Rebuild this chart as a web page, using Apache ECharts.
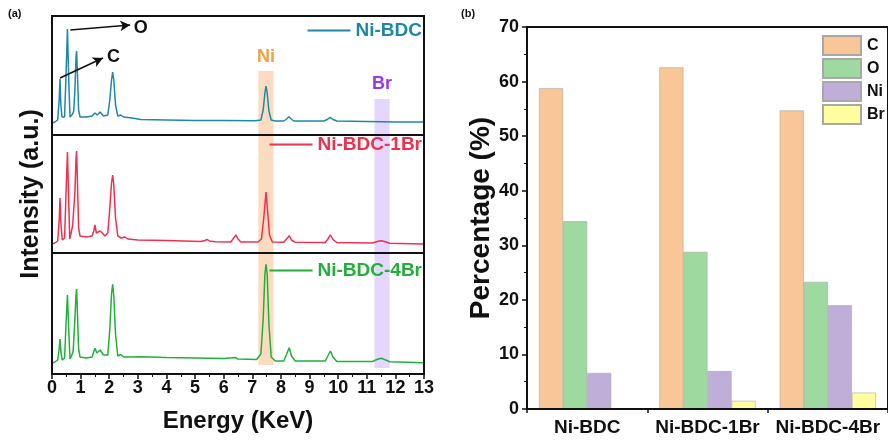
<!DOCTYPE html>
<html><head><meta charset="utf-8">
<script src="https://cdn.jsdelivr.net/npm/echarts@6/dist/echarts.min.js"></script>
<style>html,body{margin:0;padding:0;background:#fff}#c{width:888px;height:441px}</style>
</head><body><div id="c"></div>
<script>
// ---- Panel (a): EDS spectra [energy keV, intensity a.u.] ----
var spectrumNiBDC = [[0,12],[0.1,13],[0.2,15],[0.22,16],[0.25,35],[0.28,56],[0.31,30],[0.35,18],[0.44,18],[0.49,60],[0.54,106],[0.59,50],[0.63,18],[0.66,16],[0.72,21],[0.76,24],[0.8,45],[0.84,78],[0.86,84],[0.89,60],[0.93,25],[0.98,18],[1.2,18],[1.4,19],[1.5,22],[1.58,20],[1.68,23],[1.8,19],[1.95,20],[2.02,35],[2.08,55],[2.12,63],[2.16,55],[2.22,30],[2.3,19],[2.4,20],[2.5,18],[2.8,17],[3.1,15.5],[4,15],[5,14.5],[6,14.5],[7.1,14.3],[7.3,15],[7.38,25],[7.44,42],[7.48,49],[7.52,42],[7.58,24],[7.66,15],[7.8,14],[8.1,14],[8.2,16],[8.28,18.3],[8.36,16],[8.45,14],[9.5,14],[9.62,15.5],[9.72,17.7],[9.82,15.5],[9.95,14],[11,13.5],[12,13],[13,13]];
var spectrumNiBDC1Br = [[0,9],[0.1,10],[0.2,12],[0.25,32],[0.28,55],[0.31,30],[0.36,13],[0.44,15],[0.49,60],[0.54,101],[0.59,45],[0.62,14],[0.66,16],[0.72,27],[0.76,28],[0.8,60],[0.84,95],[0.86,102],[0.89,70],[0.93,25],[0.98,17],[1.2,16],[1.4,17],[1.46,22],[1.5,28],[1.55,20],[1.6,19],[1.68,22],[1.76,20],[1.85,17],[1.95,20],[2.02,45],[2.08,70],[2.12,78],[2.16,68],[2.22,35],[2.3,17],[2.35,18],[2.42,15],[2.55,16],[2.65,14],[3.0,13],[4,12.5],[5.2,11.5],[5.35,12.5],[5.42,13.7],[5.5,12],[5.7,11.3],[6.25,11],[6.35,15],[6.43,18],[6.5,14],[6.6,11],[7.2,11],[7.32,14],[7.4,35],[7.48,61],[7.54,40],[7.6,18],[7.7,11],[8.1,10.7],[8.2,14],[8.29,17.3],[8.37,13],[8.5,10.7],[9.55,10.5],[9.64,14],[9.73,18],[9.82,13.5],[9.95,10.5],[11.2,10],[11.4,11.8],[11.5,12.3],[11.62,11.5],[11.8,9.8],[13,9]];
var spectrumNiBDC4Br = [[0,11],[0.1,12],[0.2,14],[0.25,25],[0.28,35],[0.31,22],[0.36,14],[0.44,16],[0.49,50],[0.54,79],[0.59,40],[0.63,15],[0.68,18],[0.74,23],[0.8,55],[0.84,80],[0.86,85],[0.89,60],[0.93,25],[0.98,17],[1.2,16],[1.4,17],[1.5,25.7],[1.57,21],[1.68,24],[1.8,19],[1.95,19],[2.02,45],[2.08,80],[2.12,89.7],[2.16,78],[2.22,40],[2.3,18],[2.4,19.5],[2.5,17],[2.8,17],[3.1,17.3],[4,16.5],[5,16],[6,15.5],[6.4,16.5],[6.5,15],[7.15,14.5],[7.3,20],[7.38,55],[7.44,100],[7.48,109.7],[7.52,100],[7.58,50],[7.66,17],[7.8,13],[8.1,13],[8.2,20],[8.29,26.3],[8.37,18],[8.5,13],[9.55,13],[9.64,18],[9.73,23],[9.82,17],[9.95,12.5],[11.2,12.5],[11.4,15],[11.5,15.7],[11.62,14.5],[11.8,12.3],[13,11.3]];
var spectrumNames = ['Ni-BDC','Ni-BDC-1Br','Ni-BDC-4Br'];
var energyTicks = [0,1,2,3,4,5,6,7,8,9,10,11,12,13];
var niBand = [7.21, 7.74];
var brBand = [11.27, 11.8];

// ---- Panel (b): element percentages ----
var samples = ['Ni-BDC','Ni-BDC-1Br','Ni-BDC-4Br'];
var elements = ['C','O','Ni','Br'];
var pctC  = [58.8, 62.6, 54.7];
var pctO  = [34.4, 28.8, 23.3];
var pctNi = [6.6, 6.95, 19.0];
var pctBr = [0, 1.5, 3.0];
var pctTicks = [0,10,20,30,40,50,60,70];

var FONT = 'Liberation Sans, Arial, sans-serif';
var lineColors = ['#1f88a6','#f0304f','#22b03a'];
var barColors = ['#f9c797','#9ed9a0','#bfaed7','#ffffa0'];
var panelH = [119,118,121];

var chart = echarts.init(document.getElementById('c'), null, {renderer:'canvas'});

var grids = [
  {left:52, top:16, width:372, height:119, show:true, borderColor:'#111', borderWidth:2, z:10},
  {left:52, top:135, width:372, height:118, show:true, borderColor:'#111', borderWidth:2, z:10},
  {left:52, top:253, width:372, height:121, show:true, borderColor:'#111', borderWidth:2, z:10},
  {left:527, top:27, width:366, height:382, show:true, borderColor:'#111', borderWidth:2, z:10}
];

var xAxes = [0,1,2].map(function(i){
  var bottom = i === 2;
  return {
    type:'value', gridIndex:i, min:0, max:13, interval:1,
    axisLine:{show:bottom, lineStyle:{color:'#111', width:2}},
    axisTick:{show:bottom, length:5, lineStyle:{color:'#111', width:1.5}},
    minorTick:{show:bottom, splitNumber:2, length:3, lineStyle:{color:'#111', width:1}},
    splitLine:{show:false},
    axisLabel:{show:bottom, margin:5, fontFamily:FONT, fontWeight:'bold', fontSize:18, color:'#111',
      formatter:function(v){ return energyTicks.indexOf(v) >= 0 ? String(v) : ''; }},
    name: bottom ? 'Energy (KeV)' : '', nameLocation:'middle', nameGap:35,
    nameTextStyle:{fontFamily:FONT, fontWeight:'bold', fontSize:24, color:'#111'}
  };
});
xAxes.push({
  type:'category', gridIndex:3, data:samples,
  axisLine:{show:true, lineStyle:{color:'#111', width:2}},
  axisTick:{show:true, length:4, lineStyle:{color:'#111', width:1.5}},
  axisLabel:{interval:0, margin:9, fontFamily:FONT, fontWeight:'bold', fontSize:19, color:'#111'}
});

var yAxes = [0,1,2].map(function(i){
  return {
    type:'value', gridIndex:i, min:0, max:panelH[i],
    axisLine:{show:false}, axisTick:{show:false}, axisLabel:{show:false}, splitLine:{show:false},
    name: i === 1 ? 'Intensity (a.u.)' : '', nameLocation:'middle', nameGap:8,
    nameTextStyle:{fontFamily:FONT, fontWeight:'bold', fontSize:25, color:'#111'}
  };
});
yAxes.push({
  type:'value', gridIndex:3, min:0, max:70, interval:10,
  axisLine:{show:true, lineStyle:{color:'#111', width:2}},
  axisTick:{show:true, length:5, lineStyle:{color:'#111', width:1.5}},
  minorTick:{show:true, splitNumber:2, length:3, lineStyle:{color:'#111', width:1}},
  splitLine:{show:false},
  axisLabel:{margin:8, fontFamily:FONT, fontWeight:'bold', fontSize:18, color:'#111',
    formatter:function(v){ return pctTicks.indexOf(v) >= 0 ? String(v) : ''; }},
  name:'Percentage (%)', nameLocation:'middle', nameGap:31,
  nameTextStyle:{fontFamily:FONT, fontWeight:'bold', fontSize:28, color:'#111'}
});

var niAreaStyle = {color:'rgba(248,196,150,0.6)'};
var brAreaStyle = {color:'rgba(205,180,250,0.55)'};
// vertical extent [from, to] of the highlight bands in each panel
var niSpan = [[0,64],[0,118],[9,121]];
var brSpan = [[0,36],[0,118],[6,121]];

function bandArea(i){
  return {
    silent:true,
    data:[
      [{xAxis:niBand[0], yAxis:niSpan[i][0], itemStyle:niAreaStyle},{xAxis:niBand[1], yAxis:niSpan[i][1]}],
      [{xAxis:brBand[0], yAxis:brSpan[i][0], itemStyle:brAreaStyle},{xAxis:brBand[1], yAxis:brSpan[i][1]}]
    ]
  };
}

var spectra = [spectrumNiBDC, spectrumNiBDC1Br, spectrumNiBDC4Br];
var series = spectra.map(function(d,i){
  var s = {
    name: spectrumNames[i], type:'line', xAxisIndex:i, yAxisIndex:i, data:d,
    showSymbol:false, symbol:'none', lineStyle:{color:lineColors[i], width:1.5}, itemStyle:{color:lineColors[i]},
    markArea: bandArea(i), z:3
  };
  if (i === 0) {
    s.markLine = {
      silent:true, symbol:['none','arrow'], symbolSize:[8,10],
      lineStyle:{color:'#111', width:1.5, type:'solid'}, label:{show:false},
      data:[
        [{coord:[0.28,57]},{coord:[1.78,77]}],
        [{coord:[0.64,105]},{coord:[2.73,110]}]
      ]
    };
    s.markPoint = {
      silent:true, symbol:'circle', symbolSize:0,
      label:{show:true, position:'inside', fontFamily:FONT, fontWeight:'bold', fontSize:18},
      data:[
        {coord:[3.1,107], label:{formatter:'O', color:'#111'}},
        {coord:[2.15,78], label:{formatter:'C', color:'#111'}},
        {coord:[7.48,78], label:{formatter:'Ni', color:'#f5a040'}},
        {coord:[11.53,51], label:{formatter:'Br', color:'#9a35f0'}}
      ]
    };
  }
  return s;
});
var pcts = [pctC, pctO, pctNi, pctBr];
elements.forEach(function(el, k){
  series.push({
    name: el, type:'bar', xAxisIndex:3, yAxisIndex:3, data:pcts[k],
    barGap:'0%', barCategoryGap:'20%',
    itemStyle:{color:barColors[k], borderColor:'#a8a8a8', borderWidth:0.6}
  });
});

var legendTops = [21, 135, 261];
var legends = spectrumNames.map(function(n,i){
  return {
    data:[n], right:466, top:legendTops[i], padding:0, icon:'rect', itemWidth:43, itemHeight:2,
    textStyle:{fontFamily:FONT, fontWeight:'bold', fontSize:19, color:lineColors[i]},
    selectedMode:false
  };
});
legends.push({
  data:elements, orient:'vertical', left:822, top:35, padding:0, icon:'rect',
  itemWidth:38, itemHeight:19, itemGap:2,
  textStyle:{fontFamily:FONT, fontWeight:'bold', fontSize:16, color:'#111', padding:[0,0,0,1]},
  selectedMode:false
});

chart.setOption({
  animation:false,
  backgroundColor:'#fff',
  title:[
    {text:'(a)', left:8, top:8, padding:0, textStyle:{fontFamily:FONT, fontWeight:'bold', fontSize:11, color:'#111'}},
    {text:'(b)', left:461, top:8, padding:0, textStyle:{fontFamily:FONT, fontWeight:'bold', fontSize:11, color:'#111'}}
  ],
  legend: legends,
  grid: grids,
  xAxis: xAxes,
  yAxis: yAxes,
  series: series
});
</script></body></html>
